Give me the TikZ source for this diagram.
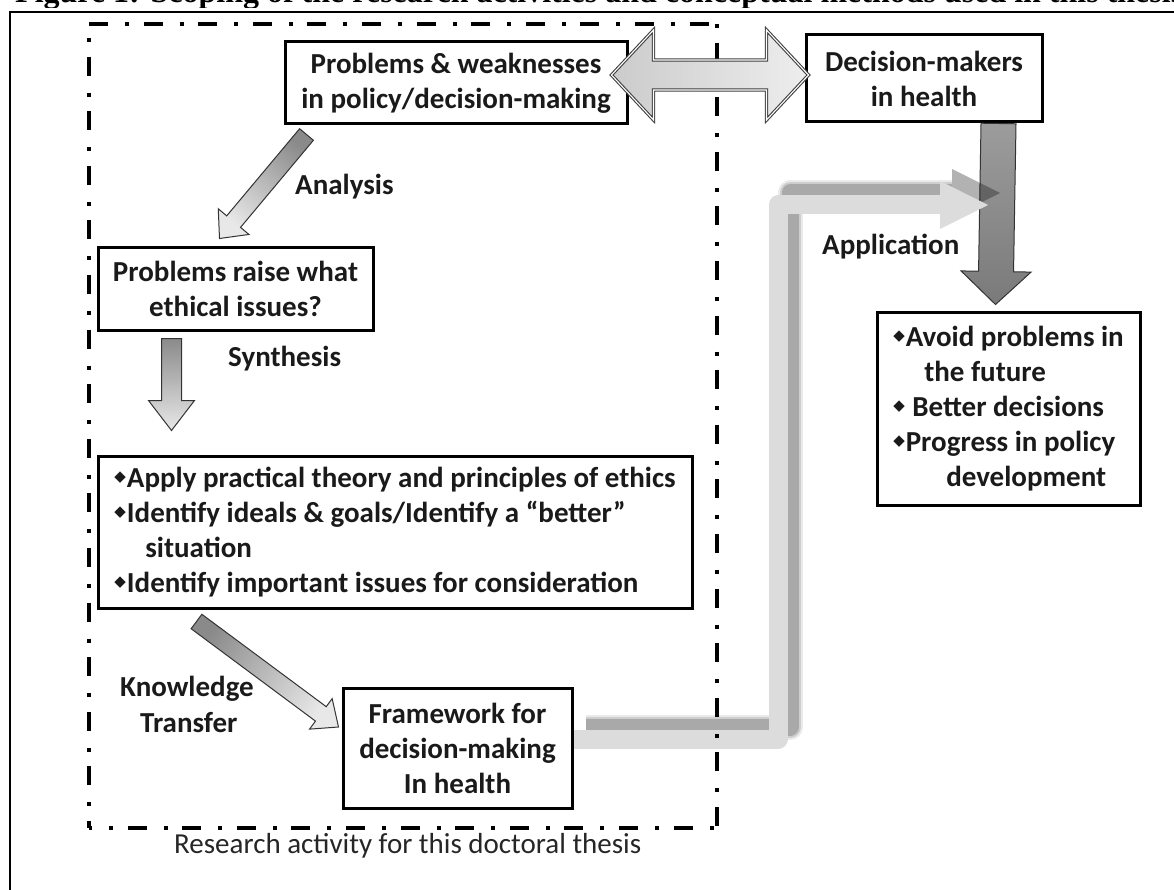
\documentclass[tikz,border=0pt]{standalone}
\usepackage{fontspec}
\setmainfont{Carlito}
\newfontfamily\titlefont{Liberation Serif}
\newfontfamily\symfont{DejaVu Sans}
\usetikzlibrary{calc}

\definecolor{ink}{HTML}{1A1A1A}
\definecolor{arrowdark}{HTML}{8A8A8A}
\definecolor{arrowlight}{HTML}{E8E8E8}
\definecolor{deeptop}{HTML}{9C9C9C}
\definecolor{deepbottom}{HTML}{7A7A7A}
\definecolor{twinleft}{HTML}{CBCBCB}
\definecolor{twinright}{HTML}{EEEEEE}
\definecolor{bandlight}{HTML}{DCDCDC}

% small raised diamond used as list bullet
\newcommand{\bul}{{\symfont\fontsize{15}{15}\selectfont\raisebox{5.5pt}{◆}}\hspace{1pt}}

% block arrow: #1 style, #2 tail, #3 tip, #4 shaft half width, #5 head half width, #6 head length
\newcommand{\blockarrow}[6]{%
  \coordinate (baS) at (#2);
  \coordinate (baE) at (#3);
  \coordinate (baH) at ($(baE)!#6!(baS)$);
  \draw[#1] ($(baS)!#4!90:(baE)$) -- ($(baH)!#4!-90:(baS)$) -- ($(baH)!#5!-90:(baS)$)
    -- (baE) -- ($(baH)!#5!90:(baS)$) -- ($(baH)!#4!90:(baS)$) -- ($(baS)!#4!-90:(baE)$) -- cycle;
}

\begin{document}
\begin{tikzpicture}[x=1pt,y=-1pt,
  box/.style={draw=black, line width=3pt, fill=white, inner sep=0pt, align=center,
    text=ink, font=\bfseries\fontsize{29}{35}\selectfont},
  listbox/.style={box, align=left},
  lbl/.style={inner sep=0pt, anchor=base west, text=ink, font=\bfseries\fontsize{29}{35}\selectfont},
  region/.style={draw=black, line width=4.5pt},
  dotfirst/.style={dash pattern=on 4pt off 14.6pt on 19pt off 17pt},
  blockline/.style={draw=black!80, line width=1pt, line join=miter},
  band/.style={line width=19pt, line join=round},
]
\useasboundingbox (0,0) rectangle (1174,890);

% page frame and the caption line above it, cut by the page edge
\draw[line width=2pt] (10,900) -- (10,12) -- (1180,12);
\begin{scope}[overlay]
  \clip (0,0) rectangle (1174,8);
  \node[overlay, anchor=base west, inner sep=0pt, font=\titlefont\bfseries\fontsize{32}{32}\selectfont] (title) at (15,3)
    {Figure 1: Scoping of the research activities and conceptual methods used in this thesis};
\end{scope}

% boxes
\node[box, minimum width=342pt, minimum height=82pt] (probs) at (456,83)
  {Problems \& weaknesses\\in policy/decision-making};
\node[box, minimum width=236pt, minimum height=87pt] (makers) at (924,78.5)
  {Decision-makers\\in health};
\node[box, minimum width=275pt, minimum height=82pt] (ethics) at (235.5,289)
  {Problems raise what\\ethical issues?};
\node[listbox, minimum width=594pt, minimum height=152pt] (apply) at (395,532)
  {\bul Apply practical theory and principles of ethics\\
   \bul Identify ideals \& goals/Identify a “better”\\
   \hspace*{31pt}situation\\
   \bul Identify important issues for consideration};
\node[box, minimum width=229pt, minimum height=120pt] (frame) at (457.5,748)
  {Framework for\\decision-making\\In health};
\node[listbox, minimum width=263pt, minimum height=193pt] (goals) at (1008.5,408.5)
  {\bul Avoid problems in\\
   \hspace*{31pt}the future\\
   \bul\ Better decisions\\
   \bul Progress in policy\\
   \hspace*{53pt}development};

% decision-makers -> outcomes
\blockarrow{blockline, top color=deeptop, bottom color=deepbottom}
  {$(makers.south east)+(-45,0)$}{$(goals.north west)+(120,-6)$}{17.5pt}{35pt}{33pt}

% application route from the framework back to practice
\coordinate (apStart) at ($(frame.east)+(0,-9)$);
\coordinate (apCornerA) at (778,739);
\coordinate (apCornerB) at (778,205);
\coordinate (apHead) at (940,205);
\coordinate (apTip) at (988,205);
\begin{scope}[transform canvas={shift={(12pt,12pt)}}]
  \draw[band, black, opacity=0.08, line width=25pt] (apStart) -- (apCornerA) -- (apCornerB) -- (apHead);
  \draw[band, black, opacity=0.12, line width=21pt] (apStart) -- (apCornerA) -- (apCornerB) -- (apHead);
  \draw[band, black, opacity=0.18, line width=17pt] (apStart) -- (apCornerA) -- (apCornerB) -- (apHead);
  \fill[black, opacity=0.3] ($(apHead)+(0,-24)$) -- (apTip) -- ($(apHead)+(0,24)$) -- cycle;
\end{scope}
\draw[band, draw=bandlight] (apStart) -- (apCornerA) -- (apCornerB) -- ($(apHead)+(1,0)$);
\fill[bandlight] ($(apHead)+(0,-24)$) -- (apTip) -- ($(apHead)+(0,24)$) -- cycle;

% research area, one side at a time so each corner gets its own dash phase
\coordinate (raNW) at (89,24);
\coordinate (raNE) at (717,24);
\coordinate (raSW) at (89,828);
\coordinate (raSE) at (717,828);
\draw[region, dash pattern=on 19pt off 17pt on 4pt off 14.6pt] (raNW) -- (raNE);
\draw[region, dotfirst] (raNE) -- (raSE);
\draw[region, dotfirst, dash phase=40.6pt] (raNW) -- (raSW);
\draw[region, dotfirst, dash phase=34.6pt] (raSW) -- (raSE);

% gray block arrows between the steps
\blockarrow{blockline, top color=arrowdark, bottom color=arrowlight, shading angle=-39}
  {$(probs.south west)+(23,9)$}{$(ethics.north west)+(123,-8)$}{9pt}{20pt}{22pt}
\blockarrow{blockline, top color=arrowdark, bottom color=arrowlight}
  {$(ethics.south west)+(75,7)$}{$(apply.north west)+(75,-24)$}{10pt}{23pt}{30pt}
\blockarrow{blockline, top color=arrowdark, bottom color=arrowlight, shading angle=54}
  {$(apply.south west)+(100,12)$}{$(frame.west)+(-3,-21)$}{9pt}{19pt}{22pt}

% two-way exchange with decision-makers
\coordinate (twL) at ($(probs.east)+(-17,-8)$);
\coordinate (twR) at ($(makers.west)+(4,-3.5)$);
\draw[draw=black!75, line width=1.1pt, double=white, double distance=1.1pt,
      left color=twinleft, right color=twinright]
  (twL) -- ($(twL)+(42,-45)$) -- ($(twL)+(42,-15)$) -- ($(twR)+(-42,-15)$) -- ($(twR)+(-42,-45)$)
  -- (twR) -- ($(twR)+(-42,45)$) -- ($(twR)+(-42,15)$) -- ($(twL)+(42,15)$) -- ($(twL)+(42,45)$) -- cycle;

% arrow labels
\node[lbl] (lanalysis) at (295,195) {Analysis};
\node[lbl] (lsynthesis) at (228,366) {Synthesis};
\node[lbl] (lknow) at (120,696) {Knowledge};
\node[lbl] (ltransfer) at (140,732) {Transfer};
\node[lbl] (lapp) at (822,255) {Application};
\node[anchor=base west, inner sep=0pt, text=black!85, font=\fontsize{29}{29}\selectfont] (caption) at (174,853)
  {Research activity for this doctoral thesis};
\end{tikzpicture}
\end{document}
